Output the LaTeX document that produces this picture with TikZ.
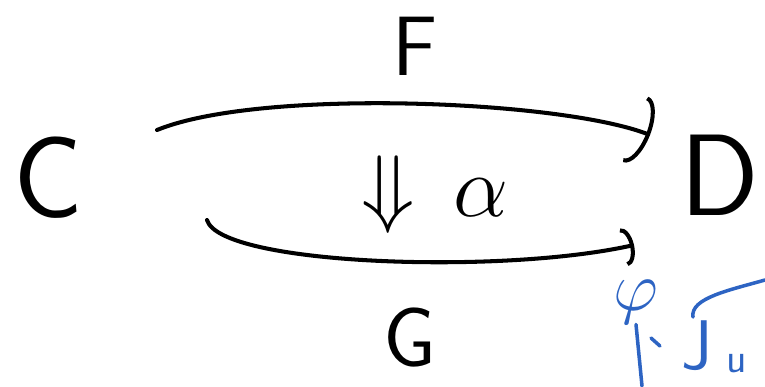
\documentclass[tikz,border=0pt]{standalone}
\usepackage{amsmath,amssymb}
\usepackage{fontspec}
\usepackage{tikz}
\usetikzlibrary{arrows.meta,calc}

\definecolor{penblue}{RGB}{45,100,195}

\begin{document}
\begin{tikzpicture}[x=0.02cm, y=-0.02cm, line join=round, line cap=round]
  \tikzset{obj/.style={font=\fontsize{66}{66}\selectfont\sffamily, inner sep=0pt},
    lbl/.style={font=\fontsize{48}{48}\selectfont\sffamily, inner sep=0pt},
    pen/.style={line width=2.3pt},
    bluepen/.style={penblue, line width=2pt},
    bigtip/.style={-{Arc Barb[length=9pt,width=40pt,line width=2.3pt]}},
    smalltip/.style={-{Arc Barb[length=6pt,width=22pt,line width=2.3pt]}}}
  \useasboundingbox (0,0) rectangle (765,386);
  \node[obj] (C) at (48,178) {C};
  \node[obj] (D) at (720,175) {D};
  \node[lbl] (F) at (415,46) {F};
  \node[lbl] (G) at (410,338) {G};
  \node[font=\Huge, scale=2, inner sep=0pt] (alpha) at (435,195) {$\Downarrow\,\alpha$};
  \coordinate (F0) at ($(C)+(109,-48)$);
  \coordinate (F1) at ($(D)+(-70,-40)$);
  \coordinate (G0) at ($(C)+(159,42)$);
  \coordinate (G1) at ($(D)+(-86,70)$);
  \draw[pen,bigtip] (F0) .. controls (260,88) and (560,100) .. (F1);
  \draw[pen,smalltip] (G0) .. controls (220,265) and (500,275) .. (G1);
  % blue notes
  \node[text=penblue, font=\Huge, scale=1.6, inner sep=0pt] (phi) at (636,302) {$\varphi$};
  \draw[bluepen] (phi.south) -- (642,386);
  \draw[bluepen] (651,338) -- (660,346);
  \node[text=penblue, font=\fontsize{40}{40}\selectfont\sffamily, inner sep=0pt] (J) at (697,346) {J};
  \node[text=penblue, font=\fontsize{24}{24}\selectfont\sffamily, inner sep=0pt] (n) at (737,364) {u};
  \draw[bluepen] (693,317) .. controls (690,298) and (730,290) .. (765,280);
\end{tikzpicture}
\end{document}
